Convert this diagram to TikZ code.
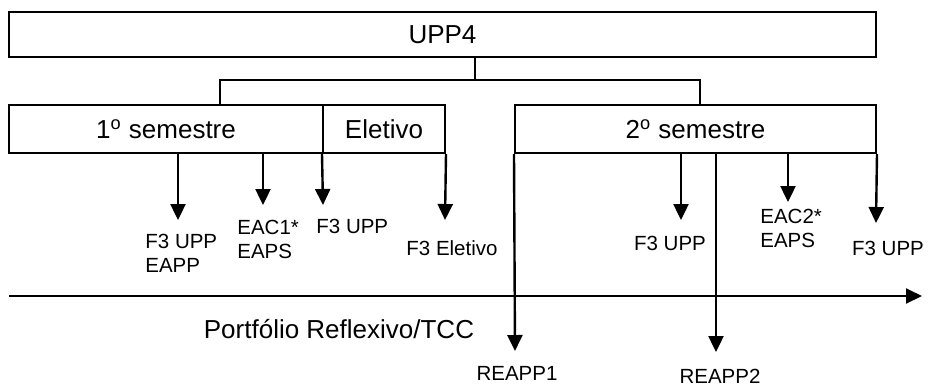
\documentclass[tikz,border=0pt]{standalone}
\usepackage{fontspec}
\setmainfont{Liberation Sans}
\usetikzlibrary{arrows.meta}
\newcommand{\bigfont}{\fontsize{13pt}{15.6pt}\selectfont}
\newcommand{\smallfont}{\fontsize{10.25pt}{11.75pt}\selectfont}
\begin{document}
\begin{tikzpicture}[x=0.5pt,y=-0.5pt,
    box/.style={draw,line width=1pt,inner sep=0pt,font=\bigfont},
    lab/.style={inner sep=0pt,align=left,font=\smallfont},
    arr/.style={line width=1.2pt,-{Triangle[width=7.5pt,length=8pt]}}]
        \useasboundingbox (0,0) rectangle (928,388);
        % boxes
        \node[box,minimum width=433.5pt,minimum height=22.5pt] (upp) at (442.5,34.5) {UPP4};
        \node[box,minimum width=157pt,minimum height=24pt] (sem1) at (166,129) {1\textsuperscript{o} semestre};
        \node[box,minimum width=61pt,minimum height=24pt] (elet) at (384,129) {Eletivo};
        \node[box,minimum width=180.5pt,minimum height=24pt] (sem2) at (695.5,129) {2\textsuperscript{o} semestre};
        \coordinate (jn) at (475,80);
        \coordinate (j1) at (220,80);
        \coordinate (j2) at (700,80);
        \draw[line width=1pt] (jn |- upp.south) -- (jn);
        \draw[line width=1pt] (j1 |- sem1.north) -- (j1) -- (j2) -- (j2 |- sem2.north);
        % labels
        \node[lab,anchor=base west] (f1) at (145,272) {F3 UPP\\EAPP};
        \node[lab,anchor=base west] (eac1) at (237,258) {EAC1*\\EAPS};
        \node[lab,anchor=base west] (f2) at (316,233) {F3 UPP};
        \node[lab,anchor=base west] (fel) at (406,255) {F3 Eletivo};
        \node[lab,anchor=base] (rea1) at (517,380) {REAPP1};
        \node[lab,anchor=base] (f3) at (670,250) {F3 UPP};
        \node[lab,anchor=base] (rea2) at (720,383) {REAPP2};
        \node[lab,anchor=base west] (eac2) at (760,247) {EAC2*\\EAPS};
        \node[lab,anchor=base] (f4) at (888,255) {F3 UPP};
        \node[anchor=base,inner sep=0pt,font=\bigfont] (port) at (339,338) {Portfólio Reflexivo/TCC};
        % arrows
        \coordinate (a1) at (178,220);
        \coordinate (a2) at (263,205);
        \coordinate (a3) at (323,205);
        \coordinate (a4) at (445,220);
        \coordinate (b1) at (515,351);
        \coordinate (b2) at (681,220);
        \coordinate (b3) at (716,352);
        \coordinate (b4) at (788,202);
        \coordinate (b5) at (876,223);
        \draw[arr] (a1 |- sem1.south) -- (a1);
        \draw[arr] (a2 |- sem1.south) -- (a2);
        \draw[arr] (elet.south west) -- (a3);
        \draw[arr] (elet.south east) -- (a4);
        \draw[arr] (sem2.south west) -- (b1);
        \draw[arr] (b2 |- sem2.south) -- (b2);
        \draw[arr] (b3 |- sem2.south) -- (b3);
        \draw[arr] (b4 |- sem2.south) -- (b4);
        \draw[arr] (sem2.south east) -- (b5);
        % timeline
        \coordinate (t0) at (9,296);
        \coordinate (t1) at (922,296);
        \draw[line width=1pt,-{Triangle[width=7.5pt,length=8pt]}] (t0) -- (t1);
    \end{tikzpicture}
\end{document}
